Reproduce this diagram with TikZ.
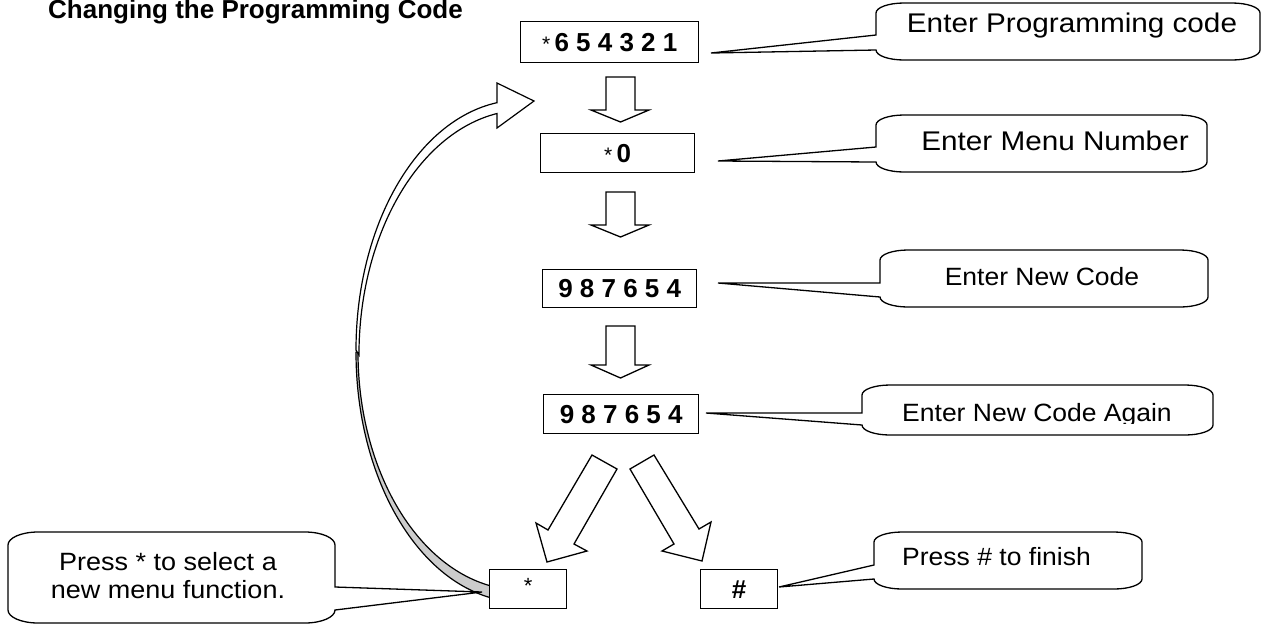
\documentclass[tikz,border=0pt]{standalone}
\usepackage{fontspec}
\setmainfont{Liberation Sans}
\newfontfamily\wideA{Liberation Sans}[FakeStretch=1.1]
\newfontfamily\wideB{Liberation Sans}[FakeStretch=1.06]
\newfontfamily\wideC{Liberation Sans}[FakeStretch=1.08]
\definecolor{bandgray}{RGB}{204,204,204}
\tikzset{
  x=1pt, y=1pt,
  box/.style={draw, line width=1.4pt, fill=white, inner sep=0pt, anchor=north west},
  blk/.style={draw, line width=1.3pt, fill=white, line join=miter},
  callout/.style={draw, line width=1.3pt, fill=white, line join=miter},
  ctextA/.style={anchor=base, inner sep=0pt, font=\wideA\fontsize{27}{27}\selectfont},
  ctextB/.style={anchor=base, inner sep=0pt, font=\wideB\fontsize{25}{25}\selectfont},
  ctextC/.style={anchor=base, inner sep=0pt, font=\wideC\fontsize{25}{25}\selectfont},
  digits/.style={font=\bfseries\fontsize{26}{26}\selectfont},
}
% left-pointing callout: left top right bottom tipx tipy attachy
\newcommand\callL[7]{%
  \draw[callout] (#1,-#7) -- (#5,-#6) -- (#1,{-(#4-10)})
    arc[start angle=180,end angle=270,x radius=28,y radius=10] -- ({#3-28},-#4)
    arc[start angle=270,end angle=360,x radius=28,y radius=10] -- (#3,{-(#2+10)})
    arc[start angle=0,end angle=90,x radius=28,y radius=10] -- ({#1+28},-#2)
    arc[start angle=90,end angle=180,x radius=28,y radius=10] -- cycle;}
% right-pointing callout
\newcommand\callR[7]{%
  \draw[callout] (#3,-#7) -- (#5,-#6) -- (#3,{-(#4-13)})
    arc[start angle=0,end angle=-90,x radius=30,y radius=13] -- ({#1+30},-#4)
    arc[start angle=-90,end angle=-180,x radius=30,y radius=13] -- (#1,{-(#2+13)})
    arc[start angle=180,end angle=90,x radius=30,y radius=13] -- ({#3-30},-#2)
    arc[start angle=90,end angle=0,x radius=30,y radius=13] -- cycle;}
\newcommand\blockdown[3]{%
  \draw[blk] (606,-#1) -- (635,-#1) -- (635,-#2) -- (649,-#2) -- (620.5,-#3)
    -- (591,-#2) -- (606,-#2) -- cycle;}
\begin{document}
\begin{tikzpicture}
\useasboundingbox (0,0) rectangle (1266,-625);
\fill[white] (0,0) rectangle (1266,-625);

% title
\node[anchor=base west, inner sep=0pt, font=\bfseries\fontsize{26}{26}\selectfont] (title) at (48,-18.5) {Changing the Programming Code};

% curved return arrow (lower, back side shown grey)
\draw[line width=1.2pt, fill=bandgray, line join=round]
  (356,-352) arc[start angle=180,end angle=262,x radius=165,y radius=250]
  -- (498.3,-587.7) arc[start angle=262,end angle=180,x radius=163,y radius=238] -- cycle;
% curved return arrow (upper, front side with head)
\draw[line width=1.2pt, fill=white, line join=miter]
  (497,-102.7) -- (497,-83) -- (534,-101) -- (497,-128) -- (497,-113.5)
  arc[start angle=99.7,end angle=180,x radius=166,y radius=245]
  -- (356,-350) arc[start angle=180,end angle=98.4,x radius=165,y radius=250] -- cycle;

% down block arrows
\blockdown{77}{110}{122}
\blockdown{192}{225}{237}
\blockdown{326}{365}{378}

% diagonal block arrows
\draw[blk] (592,-455) -- (617,-469) -- (574,-544) -- (587,-551) -- (547,-562)
  -- (536,-523) -- (548,-530) -- cycle;
\draw[blk] (654,-455) -- (630,-469) -- (674,-544) -- (662,-551) -- (702,-561)
  -- (711,-522) -- (699,-529) -- cycle;

% boxes
\node[box, minimum width=178pt, minimum height=41pt] (b1) at (520,-21) {};
\node[digits] at (b1.center) {{\mdseries\fontsize{21}{21}\selectfont *}\,6 5 4 3 2 1};
\node[box, minimum width=154pt, minimum height=39pt] (b2) at (540,-133) {};
\node[digits] at (b2.center) {{\mdseries\fontsize{21}{21}\selectfont *}\,0};
\node[box, minimum width=154pt, minimum height=38pt] (b3) at (542,-269) {};
\node[digits] at (b3.center) {9 8 7 6 5 4};
\node[box, minimum width=155pt, minimum height=39pt] (b4) at (543,-394) {};
\node[digits] at (b4.center) {9 8 7 6 5 4};
\node[box, minimum width=77pt, minimum height=39pt] (b5) at (489,-569) {};
\node[font=\fontsize{22}{22}\selectfont] at ([yshift=3pt]b5.center) {*};
\node[box, minimum width=77pt, minimum height=39pt] (b6) at (700,-569) {};
\node[digits] at (b6.center) {\#};

% callouts
\callL{876}{3}{1260}{60}{711}{53}{35}
\node[ctextA] (c1) at (1072,-32) {Enter Programming code};
\callL{876}{115}{1207}{172}{718}{161}{147}
\node[ctextA] (c2) at (1055,-150) {Enter Menu Number};
\callL{880}{250}{1208}{307}{718}{283}{283}
\node[ctextB] (c3) at (1042,-285) {Enter New Code};
\callL{862}{385}{1213}{435}{706}{413}{413}
\begin{scope}
  \clip (862,-385) rectangle (1213,-423);
  \node[ctextB] (c4) at (1037,-421) {Enter New Code Again};
\end{scope}
\callL{874}{532}{1142}{589}{779}{587}{565}
\node[ctextB] (c5) at (996.5,-565) {Press \# to finish};
\callR{8}{532}{335}{623}{482}{592}{587}
\node[ctextC] (c6a) at (168,-570) {Press * to select a};
\node[ctextC] (c6b) at (168,-598) {new menu function.};
\end{tikzpicture}
\end{document}
